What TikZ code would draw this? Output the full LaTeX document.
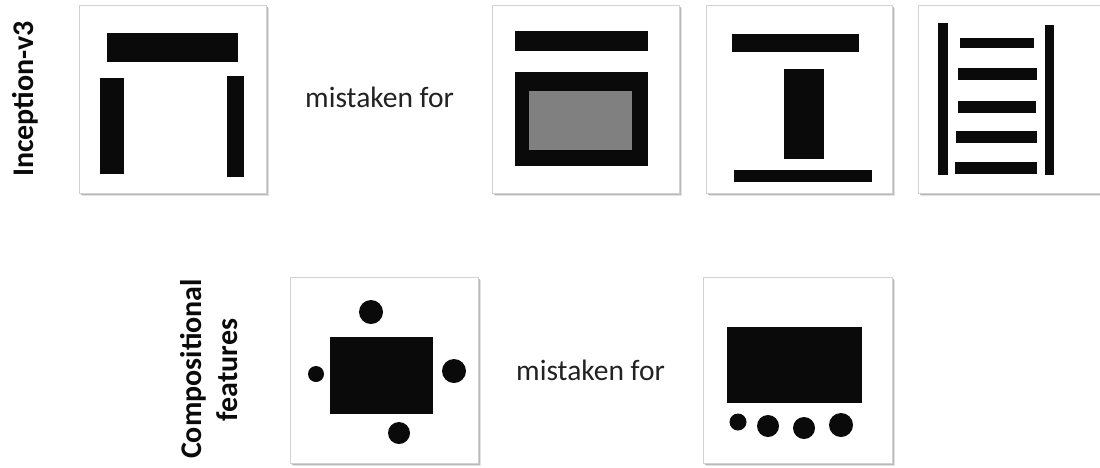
\documentclass[tikz,border=0pt]{standalone}
\usepackage{fontspec}
\setmainfont{Carlito}
\usetikzlibrary{shadows}
\definecolor{ink}{HTML}{0A0A0A}
\definecolor{midgray}{HTML}{808080}
\tikzset{
  panel/.style={rectangle, draw=gray!35, line width=0.7pt, fill=white, inner sep=0pt,
    drop shadow={shadow xshift=3pt, shadow yshift=-3pt, fill=gray!22, opacity=1},
    drop shadow={shadow xshift=1.5pt, shadow yshift=-1.5pt, fill=gray!55, opacity=1}},
  blk/.style={fill=ink},
  rowlabel/.style={font=\fontsize{30}{36}\selectfont\bfseries, text=ink, rotate=90, anchor=base, inner sep=0pt},
  mistaken/.style={font=\fontsize{29.5}{35}\selectfont, text=ink!90, anchor=base west, inner sep=0pt}
}
\begin{document}
\begin{tikzpicture}[x=1pt,y=-1pt]
\useasboundingbox (0,0) rectangle (1100,467);
\clip (0,0) rectangle (1100,467);
\fill[white] (0,0) rectangle (1100,467);
% panels
\node[panel, minimum width=187pt, minimum height=188pt] (p1) at (172.5,99) {};
\node[panel, minimum width=187pt, minimum height=188pt] (p2) at (585.5,99) {};
\node[panel, minimum width=186pt, minimum height=188pt] (p3) at (799,99) {};
\node[panel, minimum width=187pt, minimum height=188pt] (p4) at (1011.5,99) {};
\node[panel, minimum width=188pt, minimum height=186pt] (p5) at (384,370) {};
\node[panel, minimum width=189pt, minimum height=186pt] (p6) at (797.5,370) {};
% panel 1
\fill[blk] (107,33) rectangle (238,62);
\fill[blk] (100,78) rectangle (124,174);
\fill[blk] (227,76) rectangle (244,177);
% panel 2
\fill[blk] (515,31) rectangle (648,51);
\fill[blk] (515,72) rectangle (648,166);
\fill[midgray] (529,91) rectangle (632,150);
% panel 3
\fill[blk] (732,34) rectangle (859,52);
\fill[blk] (784,69) rectangle (824,159);
\fill[blk] (734,170) rectangle (872,182);
% panel 4
\fill[blk] (938,23) rectangle (948,175);
\fill[blk] (1045,25) rectangle (1054,175);
\fill[blk] (960,38) rectangle (1034,48);
\fill[blk] (958,68) rectangle (1037,80);
\fill[blk] (958,101) rectangle (1036,113);
\fill[blk] (956,131) rectangle (1037,143);
\fill[blk] (955,162) rectangle (1037,174);
% panel 5
\fill[blk] (330,337) rectangle (433,414);
\fill[blk] (371,312) circle[radius=12pt];
\fill[blk] (316,374) circle[radius=8pt];
\fill[blk] (454,371) circle[radius=12pt];
\fill[blk] (399,433) circle[radius=11pt];
% panel 6
\fill[blk] (727,327) rectangle (862,403);
\fill[blk] (738,422) circle[radius=8.5pt];
\fill[blk] (768,426) circle[radius=11pt];
\fill[blk] (804,428) circle[radius=11pt];
\fill[blk] (841,425) circle[radius=12pt];
% labels
\node[rowlabel] (lab1) at (33,99) {Inception-v3};
\node[rowlabel] (lab2a) at (201,369) {Compositional};
\node[rowlabel] (lab2b) at (237,370) {features};
\node[mistaken] (m1) at (305,107) {mistaken for};
\node[mistaken] (m2) at (516,380) {mistaken for};
\end{tikzpicture}
\end{document}
